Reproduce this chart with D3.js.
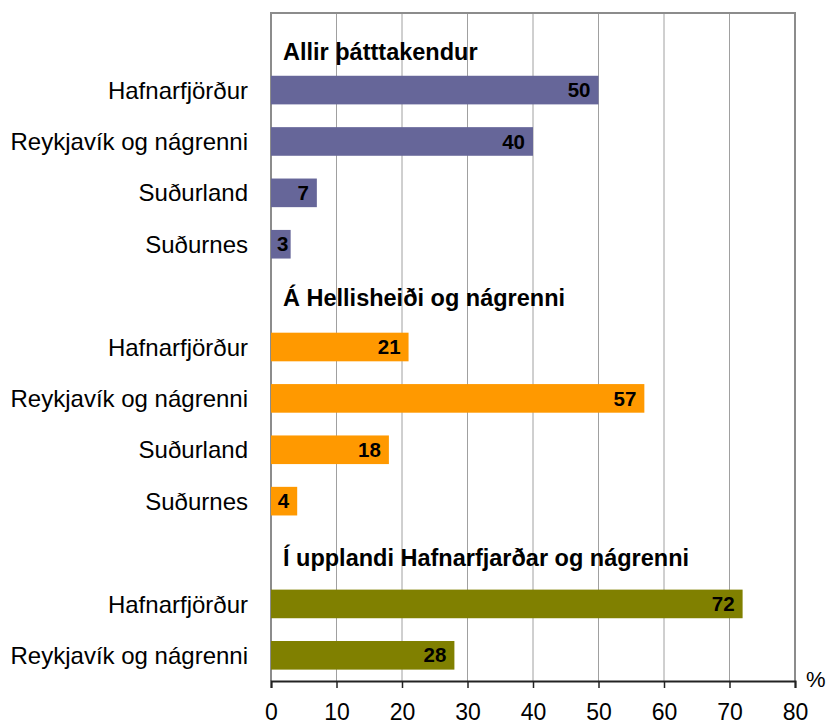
<!DOCTYPE html>
<html>
<head>
<meta charset="utf-8">
<script src="https://cdn.jsdelivr.net/npm/d3@7"></script>
<style>
  html, body { margin: 0; padding: 0; background: #ffffff; }
  svg { display: block; font-family: "Liberation Sans", Arial, sans-serif; }
</style>
</head>
<body>
<svg id="chart" width="826" height="726"></svg>
<script>
// ---- data ----
const groupTitles = ["Allir þátttakendur", "Á Hellisheiði og nágrenni", "Í upplandi Hafnarfjarðar og nágrenni"];
const categoriesAll = ["Hafnarfjörður", "Reykjavík og nágrenni", "Suðurland", "Suðurnes"];
const valuesAll = [50, 40, 7, 3];
const categoriesHellisheidi = ["Hafnarfjörður", "Reykjavík og nágrenni", "Suðurland", "Suðurnes"];
const valuesHellisheidi = [21, 57, 18, 4];
const categoriesUpplandi = ["Hafnarfjörður", "Reykjavík og nágrenni"];
const valuesUpplandi = [72, 28];
const xTicks = [0, 10, 20, 30, 40, 50, 60, 70, 80];
const unitLabel = "%";

// ---- styles ----
const groupColors = ["#666699", "#FF9900", "#808000"];
const headerDy = [21, 10.5, 13.5];

(function () {
const groups = [
  { title: groupTitles[0], cats: categoriesAll, vals: valuesAll },
  { title: groupTitles[1], cats: categoriesHellisheidi, vals: valuesHellisheidi },
  { title: groupTitles[2], cats: categoriesUpplandi, vals: valuesUpplandi }
];

const rows = [];
groups.forEach((g, gi) => {
  rows.push({ id: "h" + gi, type: "header", label: g.title, group: gi });
  g.cats.forEach((c, ci) => {
    rows.push({ id: "r" + gi + "_" + ci, type: "bar", label: c, value: g.vals[ci], group: gi });
  });
});

const svg = d3.select("#chart");
const mLeft = 271, mRight = 795, mTop = 13, mBottom = 681;
const pad = 0.443;

const x = d3.scaleLinear().domain([0, 80]).range([mLeft, mRight]);
const y = d3.scaleBand().domain(rows.map(d => d.id)).range([mTop, mBottom])
  .paddingInner(pad).paddingOuter(pad / 2);

// gridlines
svg.append("g").selectAll("line")
  .data(xTicks.filter(t => t > 0 && t < 80))
  .join("line")
  .attr("x1", d => x(d)).attr("x2", d => x(d))
  .attr("y1", mTop).attr("y2", mBottom)
  .attr("stroke", "#a0a0a0").attr("stroke-width", 1);

// plot border (left, top, right)
svg.append("path")
  .attr("d", `M${mLeft},${mBottom} L${mLeft},${mTop} L${mRight},${mTop} L${mRight},${mBottom}`)
  .attr("fill", "none").attr("stroke", "#8c8c8c").attr("stroke-width", 2);

// bars
const barRows = rows.filter(d => d.type === "bar");
svg.append("g").selectAll("rect")
  .data(barRows)
  .join("rect")
  .attr("x", x(0))
  .attr("y", d => y(d.id))
  .attr("width", d => x(d.value) - x(0))
  .attr("height", y.bandwidth())
  .attr("fill", d => groupColors[d.group]);

// value labels
const vl = svg.append("g").selectAll("text")
  .data(barRows)
  .join("text")
  .attr("y", d => y(d.id) + y.bandwidth() / 2)
  .attr("dy", "0.35em")
  .attr("text-anchor", "end")
  .attr("font-size", "20.5px")
  .attr("font-weight", "bold")
  .attr("fill", "#000")
  .text(d => d.value);
vl.each(function (d) {
  const w = this.getComputedTextLength();
  const xr = Math.max(x(d.value) - 8, x(0) + 6 + w);
  d3.select(this).attr("x", xr);
});

// category labels
svg.append("g").selectAll("text")
  .data(barRows)
  .join("text")
  .attr("x", 248)
  .attr("y", d => y(d.id) + y.bandwidth() / 2)
  .attr("dy", "0.36em")
  .attr("text-anchor", "end")
  .attr("font-size", "24px")
  .attr("fill", "#000")
  .text(d => d.label);

// group headers
svg.append("g").selectAll("text")
  .data(rows.filter(d => d.type === "header"))
  .join("text")
  .attr("x", x(0) + 12)
  .attr("y", d => y(d.id) + y.bandwidth() / 2 + headerDy[d.group])
  .attr("font-size", "23.5px")
  .attr("font-weight", "bold")
  .attr("fill", "#000")
  .text(d => d.label);

// x axis
const axis = svg.append("g")
  .attr("transform", `translate(0,${mBottom})`)
  .call(d3.axisBottom(x).tickValues(xTicks).tickSize(7).tickPadding(16).tickFormat(d3.format("d")));
axis.select(".domain").attr("stroke", "#222").attr("stroke-width", 2);
axis.selectAll(".tick line").attr("stroke", "#222").attr("stroke-width", 1.5);
axis.selectAll(".tick text")
  .attr("font-size", "23px")
  .attr("font-family", "\"Liberation Sans\", Arial, sans-serif")
  .attr("fill", "#000");

// unit label
svg.append("text")
  .attr("x", 806)
  .attr("y", mBottom + 6)
  .attr("font-size", "22px")
  .attr("fill", "#000")
  .text(unitLabel);
})();
</script>
</body>
</html>
